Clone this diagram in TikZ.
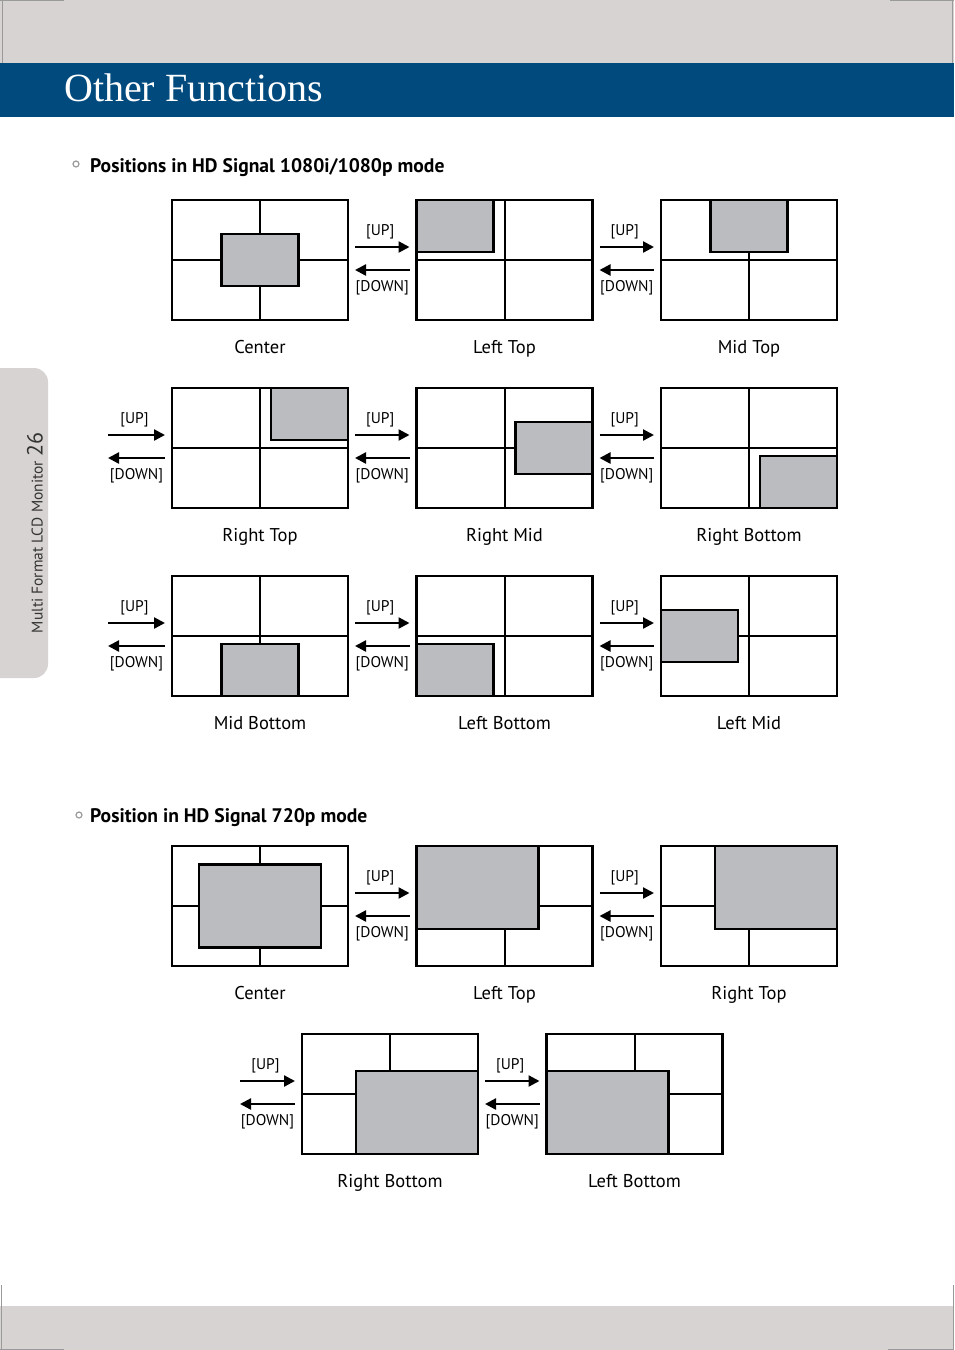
\documentclass[tikz,border=0pt]{standalone}
\usepackage{fontspec}
\setmainfont{PT Sans}
\newfontfamily\titlefont{Liberation Serif}
\usetikzlibrary{arrows.meta}

\definecolor{bandgray}{HTML}{D7D3D2}
\definecolor{bandblue}{HTML}{004A7E}
\definecolor{wingray}{HTML}{BBBCC0}
\definecolor{markgray}{HTML}{9A9A9A}

\tikzset{
  screen/.style={draw, line width=2.5pt, minimum width=176pt, minimum height=120pt, inner sep=0pt, outer sep=0pt},
  win/.style={draw, fill=wingray, line width=2.5pt, inner sep=0pt, outer sep=0pt},
  winsd/.style={win, minimum width=77pt, minimum height=52pt},
  winhd/.style={win, minimum width=122pt, minimum height=83pt},
  gridln/.style={line width=2pt},
  arr/.style={line width=2.3pt, -{Triangle[length=11pt,width=11pt]}},
  keylbl/.style={font=\fontsize{15.5}{17}\selectfont, inner sep=0pt},
  caplbl/.style={font=\fontsize{18.5}{20}\selectfont, anchor=base},
  head/.style={font=\bfseries\fontsize{19.6}{22}\selectfont, anchor=base west, inner sep=0pt},
  dotring/.style={draw=markgray, line width=1.2pt},
}

% one screen: name, centre, window style, window anchor, caption
\newcommand{\posscreen}[5]{%
  \node[screen] (#1) at (#2) {};
  \draw[gridln] (#1.north) -- (#1.south);
  \draw[gridln] (#1.west) -- (#1.east);
  \node[#3, anchor=#4] (#1w) at (#1.#4) {};
  \node[caplbl] (#1c) at ([yshift=-33pt]#1.south) {#5};
}

% [UP]/[DOWN] arrows between two points
\newcommand{\keyarrows}[2]{%
  \draw[arr] ([xshift=7pt,yshift=13pt]#1) -- ([xshift=-7pt,yshift=13pt]#2)
    node[keylbl, midway, xshift=-2pt, yshift=15pt] {[UP]};
  \draw[arr] ([xshift=-7pt,yshift=-10pt]#2) -- ([xshift=7pt,yshift=-10pt]#1)
    node[keylbl, midway, yshift=-18pt] {[DOWN]};
}

\begin{document}
\begin{tikzpicture}[x=1pt, y=1pt]
  \useasboundingbox (0,0) rectangle (954,-1350);

  %page bands
  \fill[bandgray] (0,0) rectangle (954,-63);
  \fill[bandblue] (0,-63) rectangle (954,-117);
  \fill[bandgray] (0,-1306) rectangle (954,-1350);
  \node[anchor=base west, inner sep=0pt, text=white, font=\titlefont\fontsize{40}{44}\selectfont] (title) at (64,-101) {Other Functions};

  %crop marks
  \draw[markgray, line width=1pt] (0,-0.5) -- (64,-0.5) (2,0) -- (2,-63);
  \draw[markgray, line width=1pt] (890,-0.5) -- (954,-0.5) (952,0) -- (952,-63);
  \draw[markgray, line width=1pt] (0,-1349.5) -- (64,-1349.5) (1,-1285) -- (1,-1350);
  \draw[markgray, line width=1pt] (888,-1349.5) -- (954,-1349.5) (953,-1285) -- (953,-1350);

  %side tab
  \fill[bandgray, rounded corners=14pt] (-20,-368) rectangle (48,-678);
  \node[rotate=90, text=black!80, font=\fontsize{15.5}{17}\selectfont] (tab) at (35,-533)
    {Multi Format LCD Monitor {\fontsize{22}{24}\selectfont 26}};

  %1080i/1080p
  \draw[dotring] (76,-164) circle (3);
  \node[head] (hdfull) at (90,-172) {Positions in HD Signal 1080i/1080p mode};

    %Center
    \posscreen{ctr}{260,-260}{winsd}{center}{Center}
    %Left Top
    \posscreen{ltop}{504.5,-260}{winsd}{north west}{Left Top}
    \keyarrows{ctr.east}{ltop.west}
    %Mid Top
    \posscreen{mtop}{749,-260}{winsd}{north}{Mid Top}
    \keyarrows{ltop.east}{mtop.west}

    %Right Top
    \posscreen{rtop}{260,-448}{winsd}{north east}{Right Top}
    \coordinate (rtopin) at ([xshift=-71pt]rtop.west);
    \keyarrows{rtopin}{rtop.west}
    %Right Mid
    \posscreen{rmid}{504.5,-448}{winsd}{east}{Right Mid}
    \keyarrows{rtop.east}{rmid.west}
    %Right Bottom
    \posscreen{rbot}{749,-448}{winsd}{south east}{Right Bottom}
    \keyarrows{rmid.east}{rbot.west}

    %Mid Bottom
    \posscreen{mbot}{260,-636}{winsd}{south}{Mid Bottom}
    \coordinate (mbotin) at ([xshift=-71pt]mbot.west);
    \keyarrows{mbotin}{mbot.west}
    %Left Bottom
    \posscreen{lbot}{504.5,-636}{winsd}{south west}{Left Bottom}
    \keyarrows{mbot.east}{lbot.west}
    %Left Mid
    \posscreen{lmid}{749,-636}{winsd}{west}{Left Mid}
    \keyarrows{lbot.east}{lmid.west}

  %720p
  \draw[dotring] (79,-815) circle (3);
  \node[head] (hdsmall) at (90,-822) {Position in HD Signal 720p mode};

    %Center
    \posscreen{sctr}{260,-906}{winhd}{center}{Center}
    %Left Top
    \posscreen{sltop}{504.5,-906}{winhd}{north west}{Left Top}
    \keyarrows{sctr.east}{sltop.west}
    %Right Top
    \posscreen{srtop}{749,-906}{winhd}{north east}{Right Top}
    \keyarrows{sltop.east}{srtop.west}

    %Right Bottom
    \posscreen{srbot}{390,-1094}{winhd}{south east}{Right Bottom}
    \coordinate (srbotin) at ([xshift=-69pt]srbot.west);
    \keyarrows{srbotin}{srbot.west}
    %Left Bottom
    \posscreen{slbot}{634.5,-1094}{winhd}{south west}{Left Bottom}
    \keyarrows{srbot.east}{slbot.west}
\end{tikzpicture}
\end{document}
